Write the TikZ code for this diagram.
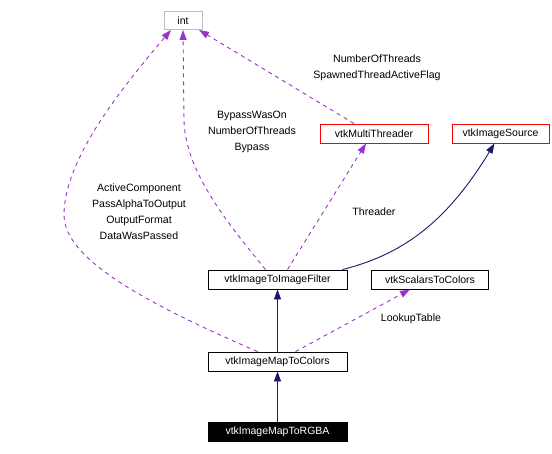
\documentclass[tikz,border=0pt]{standalone}
\usepackage{fontspec}
\setmainfont{Liberation Sans}
\usetikzlibrary{arrows.meta}
\definecolor{edgepurple}{HTML}{9A32CD}
\definecolor{edgenavy}{HTML}{191970}
\definecolor{boxgray}{HTML}{BFBFBF}
\begin{document}
\begin{tikzpicture}[x=1pt,y=-1pt,
  every node/.style={font=\fontsize{10.5}{12}\selectfont, inner sep=0pt},
  cls/.style={draw=black, line width=0.9pt, minimum height=19pt, fill=white},
  redcls/.style={cls, draw=red},
  graycls/.style={cls, draw=boxgray},
  maincls/.style={cls, fill=black, text=white},
  usage/.style={draw=edgepurple, line width=0.9pt, dash pattern=on 4pt off 4pt,
     -{Triangle[length=10pt,width=7pt,fill=edgepurple]}},
  inherit/.style={draw=edgenavy, line width=0.9pt,
     -{Triangle[length=10pt,width=7pt,fill=edgenavy]}},
  lbl/.style={align=center, font=\fontsize{10.6}{16}\selectfont}
]
\useasboundingbox (0,0) rectangle (552,453);

\node[graycls, minimum width=38pt, minimum height=18pt] (int) at (183,20.5) {int};
\node[redcls, minimum width=108pt] (mt) at (374,133.5) {vtkMultiThreader};
\node[redcls, minimum width=97pt] (is) at (500.5,133.5) {vtkImageSource};
\node[cls, minimum width=139pt] (itf) at (277.5,279.5) {vtkImageToImageFilter};
\node[cls, minimum width=117pt] (stc) at (430,279.5) {vtkScalarsToColors};
\node[cls, minimum width=139pt] (mc) at (277.5,361.5) {vtkImageMapToColors};
\node[maincls, minimum width=139pt] (rgba) at (277.5,431.5) {vtkImageMapToRGBA};

% usage edges
\draw[usage] ([xshift=-20pt]mc.north) .. controls (150,305) and (64,260) .. (64,215)
   .. controls (64,160) and (120,90) .. ([xshift=-12pt]int.south);
\draw[usage] ([xshift=-12pt]itf.north) .. controls (225,220) and (185,170) .. (184,120)
   -- (int.south);
\draw[usage] ([xshift=-20pt]mt.north) -- ([xshift=16pt]int.south);
\draw[usage] ([xshift=10pt]itf.north) -- ([xshift=-8pt]mt.south);
\draw[usage] ([xshift=18pt]mc.north) -- ([xshift=-20pt]stc.south);

% inheritance edges
\draw[inherit] ([xshift=-5pt]itf.north east) .. controls (400,255) and (445,225) .. ([xshift=-6pt]is.south);
\draw[inherit] (mc) -- (itf);
\draw[inherit] (rgba) -- (mc);

% labels
\node[lbl] (l1) at (377,68) {NumberOfThreads\\SpawnedThreadActiveFlag};
\node[lbl] (l2) at (252,132) {BypassWasOn\\NumberOfThreads\\Bypass};
\node[lbl] (l3) at (139,212) {ActiveComponent\\PassAlphaToOutput\\OutputFormat\\DataWasPassed};
\node[lbl] (l4) at (374,212) {Threader};
\node[lbl] (l5) at (411,319) {LookupTable};
\end{tikzpicture}
\end{document}
